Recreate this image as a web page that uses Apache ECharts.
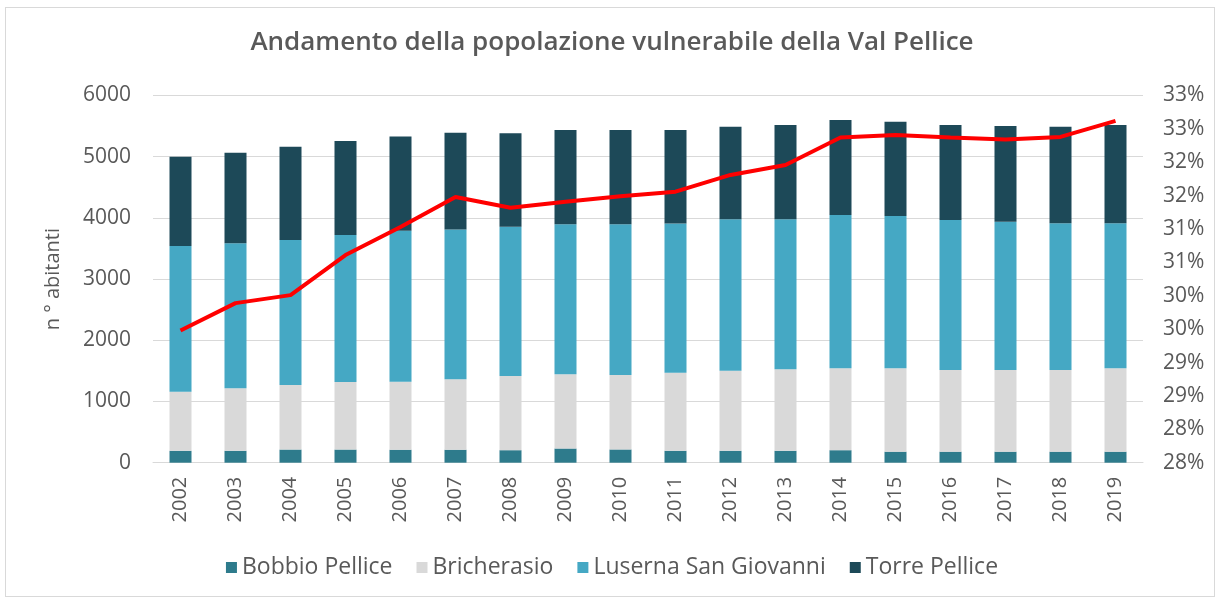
<!DOCTYPE html>
<html>
<head>
<meta charset="utf-8">
<script src="https://cdn.jsdelivr.net/npm/echarts@6/dist/echarts.min.js"></script>
<style>
html,body{margin:0;padding:0;background:#fff;}
#frame{position:absolute;left:5px;top:7px;width:1210px;height:590px;border:1px solid #d9d9d9;box-sizing:border-box;}
#chart{position:absolute;left:0;top:0;width:1224px;height:604px;}
</style>
</head>
<body>
<div id="frame"></div>
<div id="chart"></div>
<script>
const years = ['2002','2003','2004','2005','2006','2007','2008','2009','2010','2011','2012','2013','2014','2015','2016','2017','2018','2019'];
const bobbioPellice = [195,195,215,215,212,212,205,232,217,195,195,195,205,180,180,180,180,180];
const bricherasio = [965,1020,1055,1105,1112,1150,1210,1215,1215,1275,1307,1330,1337,1362,1335,1335,1335,1362];
const luserna = [2380,2370,2370,2400,2465,2450,2440,2448,2463,2440,2475,2452,2505,2490,2452,2423,2396,2369];
const torrePellice = [1460,1480,1523,1535,1540,1578,1527,1541,1541,1526,1513,1541,1553,1540,1551,1564,1579,1607];
const vulnerabilePct = [29.48,29.89,30.01,30.61,31.03,31.48,31.32,31.41,31.49,31.56,31.81,31.96,32.37,32.41,32.37,32.34,32.38,32.62];
const leftTicks = {min:0, max:6000, interval:1000};
const rightTicks = {min:27.5, max:33, interval:0.5};

const FONT = 'Open Sans';
const TXT = '#595959';
const chart = echarts.init(document.getElementById('chart'), null, {renderer:'canvas'});
const barCommon = {type:'bar', stack:'tot', barWidth:'40%', yAxisIndex:0};
chart.setOption({
  animation:false,
  backgroundColor:'transparent',
  title:{text:'Andamento della popolazione vulnerabile della Val Pellice', left:'center', top:25,
    textStyle:{fontFamily:FONT, fontSize:26, fontWeight:600, color:TXT}},
  grid:{left:153, right:81, top:95.5, bottom:141.3},
  legend:{data:['Bobbio Pellice','Bricherasio','Luserna San Giovanni','Torre Pellice'], bottom:20, left:'center',
    icon:'rect', itemWidth:11, itemHeight:11, itemGap:24,
    textStyle:{fontFamily:FONT, fontSize:23, color:TXT}},
  xAxis:{type:'category', data:years,
    axisLine:{lineStyle:{color:'#d9d9d9', width:1}}, axisTick:{show:false},
    axisLabel:{rotate:90, margin:14, fontFamily:FONT, fontSize:20, color:TXT}},
  yAxis:[
    {type:'value', min:leftTicks.min, max:leftTicks.max, interval:leftTicks.interval,
      name:'n ° abitanti', nameLocation:'middle', nameGap:90,
      nameTextStyle:{fontFamily:FONT, fontSize:20, color:TXT},
      axisLine:{show:false}, axisTick:{show:false},
      splitLine:{lineStyle:{color:'#d9d9d9', width:1}},
      axisLabel:{margin:22, fontFamily:FONT, fontSize:21, color:TXT, formatter:v=>String(v)}},
    {type:'value', min:rightTicks.min, max:rightTicks.max, interval:rightTicks.interval, position:'right',
      axisLine:{show:false}, axisTick:{show:false}, splitLine:{show:false},
      axisLabel:{margin:20, fontFamily:FONT, fontSize:21, color:TXT,
        formatter:v=>Math.round(v+1e-9)+'%'}}
  ],
  series:[
    Object.assign({name:'Bobbio Pellice', data:bobbioPellice, itemStyle:{color:'#2e7b8c'}}, barCommon),
    Object.assign({name:'Bricherasio', data:bricherasio, itemStyle:{color:'#d9d9d9'}}, barCommon),
    Object.assign({name:'Luserna San Giovanni', data:luserna, itemStyle:{color:'#45a8c4'}}, barCommon),
    Object.assign({name:'Torre Pellice', data:torrePellice, itemStyle:{color:'#1d4958'}}, barCommon),
    {name:'Popolazione vulnerabile (%)', type:'line', yAxisIndex:1, data:vulnerabilePct,
      showSymbol:false, symbol:'none', lineStyle:{color:'#ff0000', width:4}, z:10}
  ]
});
</script>
</body>
</html>
